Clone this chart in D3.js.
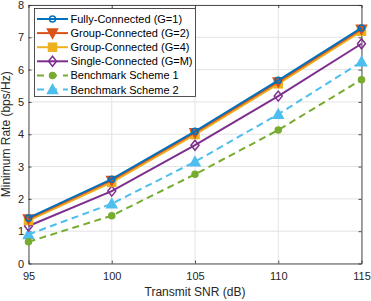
<!DOCTYPE html>
<html>
<head>
<meta charset="utf-8">
<script src="https://cdn.jsdelivr.net/npm/d3@7"></script>
<style>
  body { margin: 0; background: #fff; }
  svg { display: block; font-family: "Liberation Sans", Arial, sans-serif; }
</style>
</head>
<body>
<svg id="chart"></svg>
<script>
const snr = [95, 100, 105, 110, 115];
const fullyConnected = [1.41, 2.61, 4.09, 5.67, 7.29];
const groupG2 = [1.38, 2.57, 4.05, 5.62, 7.25];
const groupG4 = [1.33, 2.51, 3.99, 5.56, 7.19];
const singleConnected = [1.16, 2.24, 3.66, 5.18, 6.8];
const bench1 = [0.67, 1.48, 2.76, 4.13, 5.69];
const bench2 = [0.9, 1.85, 3.15, 4.62, 6.24];
const seriesNames = [
  "Fully-Connected (G=1)",
  "Group-Connected (G=2)",
  "Group-Connected (G=4)",
  "Single-Connected (G=M)",
  "Benchmark Scheme 1",
  "Benchmark Scheme 2"
];
const xTicks = [95, 100, 105, 110, 115];
const yTicks = [0, 1, 2, 3, 4, 5, 6, 7, 8];

const series = [
  { name: seriesNames[0], values: fullyConnected, color: "#0072BD", marker: "circle", fill: "none", dash: null },
  { name: seriesNames[1], values: groupG2, color: "#D95319", marker: "tridown", fill: "#D95319", dash: null },
  { name: seriesNames[2], values: groupG4, color: "#EDB120", marker: "square", fill: "#EDB120", dash: null },
  { name: seriesNames[3], values: singleConnected, color: "#7E2F8E", marker: "diamond", fill: "none", dash: null },
  { name: seriesNames[4], values: bench1, color: "#77AC30", marker: "dot", fill: "#77AC30", dash: "7,4.5" },
  { name: seriesNames[5], values: bench2, color: "#4DBEEE", marker: "triup", fill: "#4DBEEE", dash: "7,4.5" }
];

const width = 371, height = 301;
const margin = { left: 28.5, right: 9.5, top: 5, bottom: 37.5 };

const svg = d3.select("#chart").attr("width", width).attr("height", height);

const x = d3.scaleLinear().domain([95, 115]).range([margin.left, width - margin.right]);
const y = d3.scaleLinear().domain([0, 8]).range([height - margin.bottom, margin.top]);

// grid
svg.append("g")
  .selectAll("line")
  .data(xTicks)
  .join("line")
  .attr("x1", d => x(d)).attr("x2", d => x(d))
  .attr("y1", y(0)).attr("y2", y(8))
  .attr("stroke", "#e3e3e3").attr("stroke-width", 1);
svg.append("g")
  .selectAll("line")
  .data(yTicks)
  .join("line")
  .attr("y1", d => y(d)).attr("y2", d => y(d))
  .attr("x1", x(95)).attr("x2", x(115))
  .attr("stroke", "#e3e3e3").attr("stroke-width", 1);

// axes
let xAxis = svg.append("g")
  .attr("transform", "translate(0," + y(0) + ")")
  .call(d3.axisBottom(x).tickValues(xTicks).tickSizeInner(-3).tickSizeOuter(0).tickPadding(9));
let yAxis = svg.append("g")
  .attr("transform", "translate(" + x(95) + ",0)")
  .call(d3.axisLeft(y).tickValues(yTicks).tickSizeInner(-3).tickSizeOuter(0).tickPadding(4.5));
let xTop = svg.append("g")
  .attr("transform", "translate(0," + y(8) + ")")
  .call(d3.axisTop(x).tickValues(xTicks).tickSizeInner(-3).tickSizeOuter(0).tickFormat(""));
let yRight = svg.append("g")
  .attr("transform", "translate(" + x(115) + ",0)")
  .call(d3.axisRight(y).tickValues(yTicks).tickSizeInner(-3).tickSizeOuter(0).tickFormat(""));

[xAxis, yAxis, xTop, yRight].forEach(a => {
  a.select(".domain").attr("stroke", "#262626").attr("stroke-width", 0.8);
  a.selectAll(".tick line").attr("stroke", "#262626").attr("stroke-width", 0.8);
  a.selectAll(".tick text").attr("fill", "#262626").style("font-size", "11px")
    .style("font-family", "'Liberation Sans', Arial, sans-serif");
});

// axis titles
svg.append("text")
  .attr("x", (x(95) + x(115)) / 2).attr("y", 296)
  .attr("text-anchor", "middle")
  .attr("fill", "#262626")
  .style("font-size", "12px")
  .text("Transmit SNR (dB)");
svg.append("text")
  .attr("transform", "translate(9.5," + (y(4)) + ") rotate(-90)")
  .attr("text-anchor", "middle")
  .attr("fill", "#262626")
  .style("font-size", "12px")
  .text("Minimum Rate (bps/Hz)");

let drawMarker = (g, s, cx, cy) => {
  let m;
  if (s.marker === "circle") {
    m = g.append("circle").attr("cx", cx).attr("cy", cy).attr("r", 3);
  } else if (s.marker === "dot") {
    m = g.append("circle").attr("cx", cx).attr("cy", cy).attr("r", 3);
  } else if (s.marker === "square") {
    m = g.append("rect").attr("x", cx - 4).attr("y", cy - 4).attr("width", 8).attr("height", 8);
  } else if (s.marker === "diamond") {
    m = g.append("path").attr("d", `M${cx},${cy - 5}L${cx + 4},${cy}L${cx},${cy + 5}L${cx - 4},${cy}Z`);
  } else if (s.marker === "tridown") {
    m = g.append("path").attr("d", `M${cx - 5},${cy - 4}L${cx + 5},${cy - 4}L${cx},${cy + 5}Z`);
  } else if (s.marker === "triup") {
    m = g.append("path").attr("d", `M${cx - 5},${cy + 4}L${cx + 5},${cy + 4}L${cx},${cy - 5}Z`);
  }
  m.attr("fill", s.fill).attr("stroke", s.color).attr("stroke-width", 1.5);
};

let line = d3.line().x((d, i) => x(snr[i])).y(d => y(d));

// draw from back to front (benchmarks first)
series.slice().reverse().forEach(s => {
  let g = svg.append("g");
  g.append("path")
    .datum(s.values)
    .attr("d", line)
    .attr("fill", "none")
    .attr("stroke", s.color)
    .attr("stroke-width", 2)
    .attr("stroke-dasharray", s.dash);
  s.values.forEach((v, i) => drawMarker(g, s, x(snr[i]), y(v)));
});

// legend
let legend = svg.append("g");
legend.append("rect")
  .attr("x", 34.5).attr("y", 8.5)
  .attr("width", 161).attr("height", 88)
  .attr("fill", "#fff").attr("stroke", "#262626").attr("stroke-width", 0.8);

series.forEach((s, i) => {
  let ly = 19 + i * 14.1;
  let g = legend.append("g");
  g.append("line")
    .attr("x1", 37).attr("x2", 68).attr("y1", ly).attr("y2", ly)
    .attr("stroke", s.color).attr("stroke-width", 2)
    .attr("stroke-dasharray", s.dash ? "7,6" : null);
  drawMarker(g, s, 52.5, ly);
  g.append("text")
    .attr("x", 70.5).attr("y", ly + 4)
    .attr("fill", "#000")
    .style("font-size", "11px")
    .text(s.name);
});
</script>
</body>
</html>
